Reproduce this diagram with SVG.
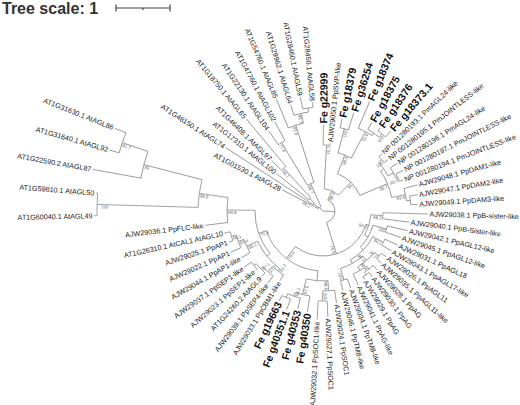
<svg xmlns="http://www.w3.org/2000/svg" width="520" height="405" viewBox="0 0 520 405">
<style>
.e{stroke:#8c8c8c;stroke-width:.8;fill:none}
.lb{font-family:"Liberation Sans",Arial,sans-serif;font-size:7.2px;fill:#222;dominant-baseline:central}
.fe{font-size:10.5px;font-weight:bold;fill:#111}
.le{text-anchor:end}
.bs{font-family:"Liberation Sans",Arial,sans-serif;font-size:4.4px;fill:#666}
.br{text-anchor:end}
.sc{stroke:#444;stroke-width:1.2;fill:none}
</style>
<rect width="520" height="405" fill="#fff"/>
<g id="scale">
<text x="2" y="13.5" font-family="Liberation Sans, Arial, sans-serif" font-size="16" font-weight="bold" fill="#333">Tree scale: 1</text>
<path class="sc" d="M116 8H170M116 4.5V11.5M170 4.5V11.5M143 8V10"/>
</g>
<g transform="translate(323,211) rotate(0.8)">
<g id="connectors" class="e">
<line x2="5" transform="rotate(225.68)"/><line x2="12" transform="rotate(362.29)"/>
<line x1="5" x2="46" transform="rotate(206.57)"/><line x1="5" x2="12" transform="rotate(217.29)"/><line x1="5" x2="30" transform="rotate(244.79)"/>
<line x1="12" x2="116" transform="rotate(212.29)"/><line x1="12" x2="18" transform="rotate(222.29)"/>
<line x1="18" x2="60" transform="rotate(218)"/><line x1="18" x2="58" transform="rotate(226.57)"/>
<line x1="58" x2="72" transform="rotate(223.71)"/><line x1="58" x2="120" transform="rotate(229.43)"/>
<line x1="30" x2="80" transform="rotate(238)"/><line x1="30" x2="90" transform="rotate(251.57)"/>
<line x1="80" x2="97" transform="rotate(235.14)"/><line x1="80" x2="101" transform="rotate(240.86)"/>
<line x1="90" x2="121" transform="rotate(246.57)"/><line x1="90" x2="100" transform="rotate(256.57)"/>
<line x1="100" x2="111" transform="rotate(252.29)"/><line x1="100" x2="104" transform="rotate(260.86)"/>
<line x1="104" x2="116" transform="rotate(258)"/><line x1="104" x2="109" transform="rotate(263.71)"/>
<line x1="12" x2="22" transform="rotate(292.82)"/><line x1="12" x2="45" transform="rotate(431.76)"/>
<line x1="22" x2="66" transform="rotate(272.29)"/><line x1="22" x2="40" transform="rotate(313.36)"/>
<line x1="66" x2="86" transform="rotate(269.43)"/><line x1="66" x2="68" transform="rotate(275.14)"/>
<line x1="40" x2="60" transform="rotate(290.5)"/><line x1="40" x2="70" transform="rotate(336.21)"/>
<line x1="60" x2="85" transform="rotate(283.71)"/><line x1="60" x2="90" transform="rotate(297.29)"/>
<line x1="85" x2="94" transform="rotate(280.86)"/><line x1="85" x2="103" transform="rotate(286.57)"/>
<line x1="90" x2="119" transform="rotate(292.29)"/><line x1="90" x2="93" transform="rotate(302.29)"/>
<line x1="93" x2="101" transform="rotate(298)"/><line x1="93" x2="97" transform="rotate(306.57)"/>
<line x1="97" x2="101" transform="rotate(303.71)"/><line x1="97" x2="105" transform="rotate(309.43)"/>
<line x1="70" x2="74" transform="rotate(324.43)"/><line x1="70" x2="84" transform="rotate(348)"/>
<line x1="74" x2="78" transform="rotate(318)"/><line x1="74" x2="80" transform="rotate(330.86)"/>
<line x1="78" x2="82" transform="rotate(315.14)"/><line x1="78" x2="83" transform="rotate(320.86)"/>
<line x1="80" x2="88" transform="rotate(326.57)"/><line x1="80" x2="82" transform="rotate(335.14)"/>
<line x1="82" x2="90" transform="rotate(332.29)"/><line x1="82" x2="86" transform="rotate(338)"/>
<line x1="84" x2="98" transform="rotate(343.71)"/><line x1="84" x2="88" transform="rotate(352.29)"/>
<line x1="88" x2="96" transform="rotate(349.43)"/><line x1="88" x2="95" transform="rotate(355.14)"/>
<line x1="45" x2="48" transform="rotate(376.46)"/><line x1="45" x2="60" transform="rotate(487.06)"/>
<line x1="48" x2="60" transform="rotate(363.71)"/><line x1="48" x2="52" transform="rotate(389.2)"/>
<line x1="60" x2="105" transform="rotate(360.86)"/><line x1="60" x2="87" transform="rotate(366.57)"/>
<line x1="52" x2="66" transform="rotate(375.14)"/><line x1="52" x2="56" transform="rotate(403.27)"/>
<line x1="66" x2="87" transform="rotate(372.29)"/><line x1="66" x2="82" transform="rotate(378)"/>
<line x1="56" x2="68" transform="rotate(386.57)"/><line x1="56" x2="60" transform="rotate(419.96)"/>
<line x1="68" x2="82" transform="rotate(383.71)"/><line x1="68" x2="79" transform="rotate(389.43)"/>
<line x1="60" x2="66" transform="rotate(407.64)"/><line x1="60" x2="72" transform="rotate(432.29)"/>
<line x1="66" x2="72" transform="rotate(398)"/><line x1="66" x2="70" transform="rotate(417.29)"/>
<line x1="72" x2="78" transform="rotate(395.14)"/><line x1="72" x2="78" transform="rotate(400.86)"/>
<line x1="70" x2="74" transform="rotate(410.86)"/><line x1="70" x2="82" transform="rotate(423.71)"/>
<line x1="74" x2="80" transform="rotate(406.57)"/><line x1="74" x2="77" transform="rotate(415.14)"/>
<line x1="77" x2="82" transform="rotate(412.29)"/><line x1="77" x2="80" transform="rotate(418)"/>
<line x1="72" x2="82" transform="rotate(429.43)"/><line x1="72" x2="82" transform="rotate(435.14)"/>
<line x1="60" x2="70" transform="rotate(454.07)"/><line x1="60" x2="68" transform="rotate(520.05)"/>
<line x1="70" x2="80" transform="rotate(445.14)"/><line x1="70" x2="86" transform="rotate(463)"/>
<line x1="80" x2="93" transform="rotate(440.86)"/><line x1="80" x2="90" transform="rotate(449.43)"/>
<line x1="90" x2="106" transform="rotate(446.57)"/><line x1="90" x2="109" transform="rotate(452.29)"/>
<line x1="86" x2="102" transform="rotate(458)"/><line x1="86" x2="90" transform="rotate(468)"/>
<line x1="90" x2="101" transform="rotate(463.71)"/><line x1="90" x2="94" transform="rotate(472.29)"/>
<line x1="94" x2="105" transform="rotate(469.43)"/><line x1="94" x2="100" transform="rotate(475.14)"/>
<line x1="68" x2="72" transform="rotate(500.32)"/><line x1="68" x2="96" transform="rotate(539.79)"/>
<line x1="72" x2="75" transform="rotate(486.21)"/><line x1="72" x2="84" transform="rotate(514.43)"/>
<line x1="75" x2="82" transform="rotate(480.86)"/><line x1="75" x2="82" transform="rotate(491.57)"/>
<line x1="82" x2="91" transform="rotate(486.57)"/><line x1="82" x2="85" transform="rotate(496.57)"/>
<line x1="85" x2="90" transform="rotate(492.29)"/><line x1="85" x2="88" transform="rotate(500.86)"/>
<line x1="88" x2="90" transform="rotate(498)"/><line x1="88" x2="97" transform="rotate(503.71)"/>
<line x1="84" x2="94" transform="rotate(509.43)"/><line x1="84" x2="90" transform="rotate(519.43)"/>
<line x1="90" x2="101" transform="rotate(515.14)"/><line x1="90" x2="95" transform="rotate(523.71)"/>
<line x1="95" x2="99" transform="rotate(520.86)"/><line x1="95" x2="101" transform="rotate(526.57)"/>
<line x1="96" x2="119" transform="rotate(532.29)"/><line x1="96" x2="125" transform="rotate(547.29)"/>
<line x1="125" x2="226" transform="rotate(540.86)"/><line x1="125" x2="185" transform="rotate(553.71)"/>
<line x1="226" x2="229" transform="rotate(538)"/><line x1="226" x2="228" transform="rotate(543.71)"/>
<line x1="185" x2="234" transform="rotate(549.43)"/><line x1="185" x2="212" transform="rotate(558)"/>
<line x1="212" x2="222" transform="rotate(555.14)"/><line x1="212" x2="224" transform="rotate(560.86)"/>
<circle r="5" pathLength="360" stroke-dasharray="38.22 400" transform="rotate(206.57)"/>
<circle r="12" pathLength="360" stroke-dasharray="10 400" transform="rotate(212.29)"/>
<circle r="18" pathLength="360" stroke-dasharray="8.57 400" transform="rotate(218)"/>
<circle r="58" pathLength="360" stroke-dasharray="5.72 400" transform="rotate(223.71)"/>
<circle r="30" pathLength="360" stroke-dasharray="13.57 400" transform="rotate(238)"/>
<circle r="80" pathLength="360" stroke-dasharray="5.72 400" transform="rotate(235.14)"/>
<circle r="90" pathLength="360" stroke-dasharray="10 400" transform="rotate(246.57)"/>
<circle r="100" pathLength="360" stroke-dasharray="8.57 400" transform="rotate(252.29)"/>
<circle r="104" pathLength="360" stroke-dasharray="5.71 400" transform="rotate(258)"/>
<circle r="12" pathLength="360" stroke-dasharray="138.94 400" transform="rotate(292.82)"/>
<circle r="22" pathLength="360" stroke-dasharray="41.07 400" transform="rotate(272.29)"/>
<circle r="66" pathLength="360" stroke-dasharray="5.71 400" transform="rotate(269.43)"/>
<circle r="40" pathLength="360" stroke-dasharray="45.71 400" transform="rotate(290.5)"/>
<circle r="60" pathLength="360" stroke-dasharray="13.58 400" transform="rotate(283.71)"/>
<circle r="85" pathLength="360" stroke-dasharray="5.71 400" transform="rotate(280.86)"/>
<circle r="90" pathLength="360" stroke-dasharray="10 400" transform="rotate(292.29)"/>
<circle r="93" pathLength="360" stroke-dasharray="8.57 400" transform="rotate(298)"/>
<circle r="97" pathLength="360" stroke-dasharray="5.72 400" transform="rotate(303.71)"/>
<circle r="70" pathLength="360" stroke-dasharray="23.57 400" transform="rotate(324.43)"/>
<circle r="74" pathLength="360" stroke-dasharray="12.86 400" transform="rotate(318)"/>
<circle r="78" pathLength="360" stroke-dasharray="5.72 400" transform="rotate(315.14)"/>
<circle r="80" pathLength="360" stroke-dasharray="8.57 400" transform="rotate(326.57)"/>
<circle r="82" pathLength="360" stroke-dasharray="5.71 400" transform="rotate(332.29)"/>
<circle r="84" pathLength="360" stroke-dasharray="8.58 400" transform="rotate(343.71)"/>
<circle r="88" pathLength="360" stroke-dasharray="5.71 400" transform="rotate(349.43)"/>
<circle r="45" pathLength="360" stroke-dasharray="110.6 400" transform="rotate(376.46)"/>
<circle r="48" pathLength="360" stroke-dasharray="25.49 400" transform="rotate(363.71)"/>
<circle r="60" pathLength="360" stroke-dasharray="5.71 400" transform="rotate(360.86)"/>
<circle r="52" pathLength="360" stroke-dasharray="28.13 400" transform="rotate(375.14)"/>
<circle r="66" pathLength="360" stroke-dasharray="5.71 400" transform="rotate(372.29)"/>
<circle r="56" pathLength="360" stroke-dasharray="33.39 400" transform="rotate(386.57)"/>
<circle r="68" pathLength="360" stroke-dasharray="5.72 400" transform="rotate(383.71)"/>
<circle r="60" pathLength="360" stroke-dasharray="24.65 400" transform="rotate(407.64)"/>
<circle r="66" pathLength="360" stroke-dasharray="19.29 400" transform="rotate(398)"/>
<circle r="72" pathLength="360" stroke-dasharray="5.72 400" transform="rotate(395.14)"/>
<circle r="70" pathLength="360" stroke-dasharray="12.85 400" transform="rotate(410.86)"/>
<circle r="74" pathLength="360" stroke-dasharray="8.57 400" transform="rotate(406.57)"/>
<circle r="77" pathLength="360" stroke-dasharray="5.71 400" transform="rotate(412.29)"/>
<circle r="72" pathLength="360" stroke-dasharray="5.71 400" transform="rotate(429.43)"/>
<circle r="60" pathLength="360" stroke-dasharray="65.98 400" transform="rotate(454.07)"/>
<circle r="70" pathLength="360" stroke-dasharray="17.86 400" transform="rotate(445.14)"/>
<circle r="80" pathLength="360" stroke-dasharray="8.57 400" transform="rotate(440.86)"/>
<circle r="90" pathLength="360" stroke-dasharray="5.72 400" transform="rotate(446.57)"/>
<circle r="86" pathLength="360" stroke-dasharray="10 400" transform="rotate(458)"/>
<circle r="90" pathLength="360" stroke-dasharray="8.58 400" transform="rotate(463.71)"/>
<circle r="94" pathLength="360" stroke-dasharray="5.71 400" transform="rotate(469.43)"/>
<circle r="68" pathLength="360" stroke-dasharray="39.47 400" transform="rotate(500.32)"/>
<circle r="72" pathLength="360" stroke-dasharray="28.22 400" transform="rotate(486.21)"/>
<circle r="75" pathLength="360" stroke-dasharray="10.71 400" transform="rotate(480.86)"/>
<circle r="82" pathLength="360" stroke-dasharray="10 400" transform="rotate(486.57)"/>
<circle r="85" pathLength="360" stroke-dasharray="8.57 400" transform="rotate(492.29)"/>
<circle r="88" pathLength="360" stroke-dasharray="5.71 400" transform="rotate(498)"/>
<circle r="84" pathLength="360" stroke-dasharray="10 400" transform="rotate(509.43)"/>
<circle r="90" pathLength="360" stroke-dasharray="8.57 400" transform="rotate(515.14)"/>
<circle r="95" pathLength="360" stroke-dasharray="5.71 400" transform="rotate(520.86)"/>
<circle r="96" pathLength="360" stroke-dasharray="15 400" transform="rotate(532.29)"/>
<circle r="125" pathLength="360" stroke-dasharray="12.85 400" transform="rotate(540.86)"/>
<circle r="226" pathLength="360" stroke-dasharray="5.71 400" transform="rotate(538)"/>
<circle r="185" pathLength="360" stroke-dasharray="8.57 400" transform="rotate(549.43)"/>
<circle r="212" pathLength="360" stroke-dasharray="5.72 400" transform="rotate(555.14)"/>
</g>
<g id="leaves">
<g id="leaf-00"><text class="lb le" transform="rotate(178) translate(230.5,0) rotate(180)">AT1G60040.1 AtAGL49</text></g>
<g id="leaf-01"><text class="lb le" transform="rotate(183.71) translate(229.5,0) rotate(180)">AT1G59810.1 AtAGL50</text></g>
<g id="leaf-02"><text class="lb le" transform="rotate(189.43) translate(235.5,0) rotate(180)">AT1G22590.2 AtAGL87</text></g>
<g id="leaf-03"><text class="lb le" transform="rotate(195.14) translate(223.5,0) rotate(180)">AT1G31640.1 AtAGL92</text></g>
<g id="leaf-04"><text class="lb le" transform="rotate(200.86) translate(225.5,0) rotate(180)">AT1G31630.1 AtAGL86</text></g>
<g id="leaf-05"><text class="lb le" transform="rotate(206.57) translate(47.5,0) rotate(180)">AT1G01530.1 AtAGL28</text></g>
<g id="leaf-06"><text class="lb le" transform="rotate(212.29) translate(117.5,0) rotate(180)">AT1G48150.1 AtAGL74</text></g>
<g id="leaf-07"><text class="lb le" transform="rotate(218) translate(61.5,0) rotate(180)">AT1G17310.1 AtAGL100</text></g>
<g id="leaf-08"><text class="lb le" transform="rotate(223.71) translate(73.5,0) rotate(180)">AT1G46408.1 AtAGL97</text></g>
<g id="leaf-09"><text class="lb le" transform="rotate(229.43) translate(121.5,0) rotate(180)">AT1G18750.1 AtAGL65</text></g>
<g id="leaf-10"><text class="lb le" transform="rotate(235.14) translate(98.5,0) rotate(180)">AT1G22130.1 AtAGL104</text></g>
<g id="leaf-11"><text class="lb le" transform="rotate(240.86) translate(102.5,0) rotate(180)">AT1G47760.1 AtAGL102</text></g>
<g id="leaf-12"><text class="lb le" transform="rotate(246.57) translate(122.5,0) rotate(180)">AT1G54760.1 AtAGL85</text></g>
<g id="leaf-13"><text class="lb le" transform="rotate(252.29) translate(112.5,0) rotate(180)">AT1G29962.1 AtAGL64</text></g>
<g id="leaf-14"><text class="lb le" transform="rotate(258) translate(117.5,0) rotate(180)">AT1G28460.1 AtAGL59</text></g>
<g id="leaf-15"><text class="lb le" transform="rotate(263.71) translate(110.5,0) rotate(180)">AT1G28450.1 AtAGL58</text></g>
<g id="leaf-16"><text class="lb fe" transform="rotate(269.43) translate(87.5,0)">Fe g22999</text></g>
<g id="leaf-17"><text class="lb" transform="rotate(275.14) translate(69.5,0)">AJW29050.1 PpSVP-like</text></g>
<g id="leaf-18"><text class="lb fe" transform="rotate(280.86) translate(95.5,0)">Fe g18379</text></g>
<g id="leaf-19"><text class="lb fe" transform="rotate(286.57) translate(104.5,0)">Fe g36254</text></g>
<g id="leaf-20"><text class="lb fe" transform="rotate(292.29) translate(120.5,0)">Fe g18374</text></g>
<g id="leaf-21"><text class="lb fe" transform="rotate(298) translate(102.5,0)">Fe g18375</text></g>
<g id="leaf-22"><text class="lb fe" transform="rotate(303.71) translate(102.5,0)">Fe g18376</text></g>
<g id="leaf-23"><text class="lb fe" transform="rotate(309.43) translate(106.5,0)">Fe g18373.1</text></g>
<g id="leaf-24"><text class="lb" transform="rotate(315.14) translate(83.5,0)">NP 001280193.1 PmAGL24-like</text></g>
<g id="leaf-25"><text class="lb" transform="rotate(320.86) translate(84.5,0)">NP 001280195.1 PmJOINTLESS-like</text></g>
<g id="leaf-26"><text class="lb" transform="rotate(326.57) translate(89.5,0)">NP 001280196.1 PmAGL24-like</text></g>
<g id="leaf-27"><text class="lb" transform="rotate(332.29) translate(91.5,0)">NP 001280197.1 PmJOINTLESS-like</text></g>
<g id="leaf-28"><text class="lb" transform="rotate(338) translate(87.5,0)">NP 001280194.1 PmJOINTLESS-like</text></g>
<g id="leaf-29"><text class="lb" transform="rotate(343.71) translate(99.5,0)">AJW29048.1 PpDAM1-like</text></g>
<g id="leaf-30"><text class="lb" transform="rotate(349.43) translate(97.5,0)">AJW29047.1 PpDAM2-like</text></g>
<g id="leaf-31"><text class="lb" transform="rotate(355.14) translate(96.5,0)">AJW29049.1 PpDAM3-like</text></g>
<g id="leaf-32"><text class="lb" transform="rotate(360.86) translate(106.5,0)">AJW29038.1 PpB-sister-like</text></g>
<g id="leaf-33"><text class="lb" transform="rotate(366.57) translate(88.5,0)">AJW29040.1 PpB-Sister-like</text></g>
<g id="leaf-34"><text class="lb" transform="rotate(372.29) translate(88.5,0)">AJW29042.1 PpAGL12-like</text></g>
<g id="leaf-35"><text class="lb" transform="rotate(378) translate(83.5,0)">AJW29045.1 PpAGL12-like</text></g>
<g id="leaf-36"><text class="lb" transform="rotate(383.71) translate(83.5,0)">AJW29031.1 PpAGL18</text></g>
<g id="leaf-37"><text class="lb" transform="rotate(389.43) translate(80.5,0)">AJW29043.1 PpAGL17-like</text></g>
<g id="leaf-38"><text class="lb" transform="rotate(395.14) translate(79.5,0)">AJW29026.1 PpAGL11</text></g>
<g id="leaf-39"><text class="lb" transform="rotate(400.86) translate(79.5,0)">AJW29035.1 PpAGL11-like</text></g>
<g id="leaf-40"><text class="lb" transform="rotate(406.57) translate(81.5,0)">AJW29028.1 PpAG</text></g>
<g id="leaf-41"><text class="lb" transform="rotate(412.29) translate(83.5,0)">AJW29030.1 PpAG</text></g>
<g id="leaf-42"><text class="lb" transform="rotate(418) translate(81.5,0)">AJW29029.1 PpAG</text></g>
<g id="leaf-43"><text class="lb" transform="rotate(423.71) translate(83.5,0)">AJW29041.1 PpAG-like</text></g>
<g id="leaf-44"><text class="lb" transform="rotate(429.43) translate(83.5,0)">AJW29034.1 PpTM8-like</text></g>
<g id="leaf-45"><text class="lb" transform="rotate(435.14) translate(83.5,0)">AJW29046.1 PpTM8-like</text></g>
<g id="leaf-46"><text class="lb" transform="rotate(440.86) translate(94.5,0)">AJW29024.1 PpSOC1</text></g>
<g id="leaf-47"><text class="lb" transform="rotate(446.57) translate(107.5,0)">AJW29027.1 PpSOC1</text></g>
<g id="leaf-48"><text class="lb le" transform="rotate(452.29) translate(110.5,0) rotate(180)">AJW29032.1 PpSOC1-like</text></g>
<g id="leaf-49"><text class="lb le fe" transform="rotate(458) translate(103.5,0) rotate(180)">Fe g40350</text></g>
<g id="leaf-50"><text class="lb le fe" transform="rotate(463.71) translate(102.5,0) rotate(180)">Fe g40353</text></g>
<g id="leaf-51"><text class="lb le fe" transform="rotate(469.43) translate(106.5,0) rotate(180)">Fe g40351.1</text></g>
<g id="leaf-52"><text class="lb le fe" transform="rotate(475.14) translate(101.5,0) rotate(180)">Fe g19663</text></g>
<g id="leaf-53"><text class="lb le" transform="rotate(480.86) translate(83.5,0) rotate(180)">AJW29033.1 PpCBM1-like</text></g>
<g id="leaf-54"><text class="lb le" transform="rotate(486.57) translate(92.5,0) rotate(180)">AJW29039.1 PpSEP4-like</text></g>
<g id="leaf-55"><text class="lb le" transform="rotate(492.29) translate(91.5,0) rotate(180)">AT1G24260.2 AtAGL9</text></g>
<g id="leaf-56"><text class="lb le" transform="rotate(498) translate(91.5,0) rotate(180)">AJW29023.1 PpSEP1-like</text></g>
<g id="leaf-57"><text class="lb le" transform="rotate(503.71) translate(98.5,0) rotate(180)">AJW29037.1 PpSEP1-like</text></g>
<g id="leaf-58"><text class="lb le" transform="rotate(509.43) translate(95.5,0) rotate(180)">AJW29044.1 PpAP1-like</text></g>
<g id="leaf-59"><text class="lb le" transform="rotate(515.14) translate(102.5,0) rotate(180)">AJW29022.1 PpAP1</text></g>
<g id="leaf-60"><text class="lb le" transform="rotate(520.86) translate(100.5,0) rotate(180)">AJW29025.1 PpAP1</text></g>
<g id="leaf-61"><text class="lb le" transform="rotate(526.57) translate(102.5,0) rotate(180)">AT1G26310.1 AtCAL1 AtAGL10</text></g>
<g id="leaf-62"><text class="lb le" transform="rotate(532.29) translate(120.5,0) rotate(180)">AJW29036.1 PpFLC-like</text></g>
</g>
<g id="nodes" class="bs">
<g id="n-A"><text transform="rotate(208) translate(22,0) rotate(180)" y="3.8">84.1</text></g>
<g id="n-A3"><text transform="rotate(226.57) translate(57,0) rotate(180)" y="3.8">98.7</text></g>
<g id="n-A4"><text transform="rotate(244.79) translate(29,0) rotate(180)" y="3.8">56.7</text></g>
<g id="n-A5"><text transform="rotate(238) translate(79,0) rotate(180)" y="3.8">77.8</text></g>
<g id="n-A6"><text transform="rotate(251.57) translate(89,0) rotate(180)" y="3.8">82.9</text></g>
<g id="n-A7"><text transform="rotate(256.57) translate(99,0) rotate(180)" y="3.8">99.7</text></g>
<g id="n-BT"><text class="br" transform="rotate(292.82) translate(21,0)" y="3.8">58.9</text></g>
<g id="n-BT1"><text class="br" transform="rotate(272.29) translate(65,0)" y="3.8">76.3</text></g>
<g id="n-BT2"><text class="br" transform="rotate(313.36) translate(39,0)" y="3.8">95</text></g>
<g id="n-BF"><text class="br" transform="rotate(290.5) translate(59,0)" y="3.8">98.3</text></g>
<g id="n-BF1"><text class="br" transform="rotate(283.71) translate(84,0)" y="3.8">100</text></g>
<g id="n-BF2"><text class="br" transform="rotate(297.29) translate(89,0)" y="3.8">91.6</text></g>
<g id="n-BF4"><text class="br" transform="rotate(306.57) translate(96,0)" y="3.8">100</text></g>
<g id="n-BN"><text class="br" transform="rotate(336.21) translate(69,0)" y="3.8">98.7</text></g>
<g id="n-BN1a"><text class="br" transform="rotate(318) translate(77,0)" y="3.8">100</text></g>
<g id="n-BN1c"><text class="br" transform="rotate(335.14) translate(81,0)" y="3.8">99.3</text></g>
<g id="n-BD"><text class="br" transform="rotate(348) translate(83,0)" y="3.8">99.9</text></g>
<g id="n-C"><text class="br" transform="rotate(431.76) translate(44,0)" y="3.8">75.8</text></g>
<g id="n-D"><text class="br" transform="rotate(376.46) translate(47,0)" y="3.8">96.2</text></g>
<g id="n-DS"><text class="br" transform="rotate(363.71) translate(59,0)" y="3.8">98.3</text></g>
<g id="n-D12"><text class="br" transform="rotate(375.14) translate(65,0)" y="3.8">100</text></g>
<g id="n-D1718"><text class="br" transform="rotate(386.57) translate(67,0)" y="3.8">94.1</text></g>
<g id="n-DAG"><text class="br" transform="rotate(407.64) translate(65,0)" y="3.8">98.1</text></g>
<g id="n-DAG1"><text class="br" transform="rotate(398) translate(71,0)" y="3.8">97.5</text></g>
<g id="n-DAG3"><text class="br" transform="rotate(410.86) translate(73,0)" y="3.8">96.4</text></g>
<g id="n-DTM"><text class="br" transform="rotate(432.29) translate(71,0)" y="3.8">100</text></g>
<g id="n-E"><text transform="rotate(487.06) translate(59,0) rotate(180)" y="3.8">79.8</text></g>
<g id="n-ES"><text class="br" transform="rotate(445.14) translate(79,0)" y="3.8">99.6</text></g>
<g id="n-ES2"><text transform="rotate(449.43) translate(89,0) rotate(180)" y="3.8">100</text></g>
<g id="n-EF"><text transform="rotate(463) translate(85,0) rotate(180)" y="3.8">97.5</text></g>
<g id="n-EF2"><text transform="rotate(468) translate(89,0) rotate(180)" y="3.8">98.2</text></g>
<g id="n-F"><text transform="rotate(520.05) translate(67,0) rotate(180)" y="3.8">75.6</text></g>
<g id="n-FSEP"><text transform="rotate(486.21) translate(74,0) rotate(180)" y="3.8">81.7</text></g>
<g id="n-FSEP2"><text transform="rotate(491.57) translate(81,0) rotate(180)" y="3.8">97.7</text></g>
<g id="n-FSEP3"><text transform="rotate(496.57) translate(84,0) rotate(180)" y="3.8">87.1</text></g>
<g id="n-FAP"><text transform="rotate(514.43) translate(83,0) rotate(180)" y="3.8">89.1</text></g>
<g id="n-FAP2"><text transform="rotate(519.43) translate(89,0) rotate(180)" y="3.8">84.4</text></g>
<g id="n-FAP3"><text transform="rotate(523.71) translate(94,0) rotate(180)" y="3.8">86.1</text></g>
<g id="n-G"><text transform="rotate(539.79) translate(95,0) rotate(180)" y="3.8">88.9</text></g>
<g id="n-BL"><text transform="rotate(547.29) translate(124,0) rotate(180)" y="3.8">89.8</text></g>
<g id="n-BL3"><text transform="rotate(540.86) translate(222,0) rotate(180)" y="3.8">100</text></g>
<g id="n-BL1"><text transform="rotate(553.71) translate(184,0) rotate(180)" y="3.8">99</text></g>
<g id="n-BL2"><text transform="rotate(558) translate(211,0) rotate(180)" y="3.8">91.7</text></g>
</g>
</g>
</svg>
